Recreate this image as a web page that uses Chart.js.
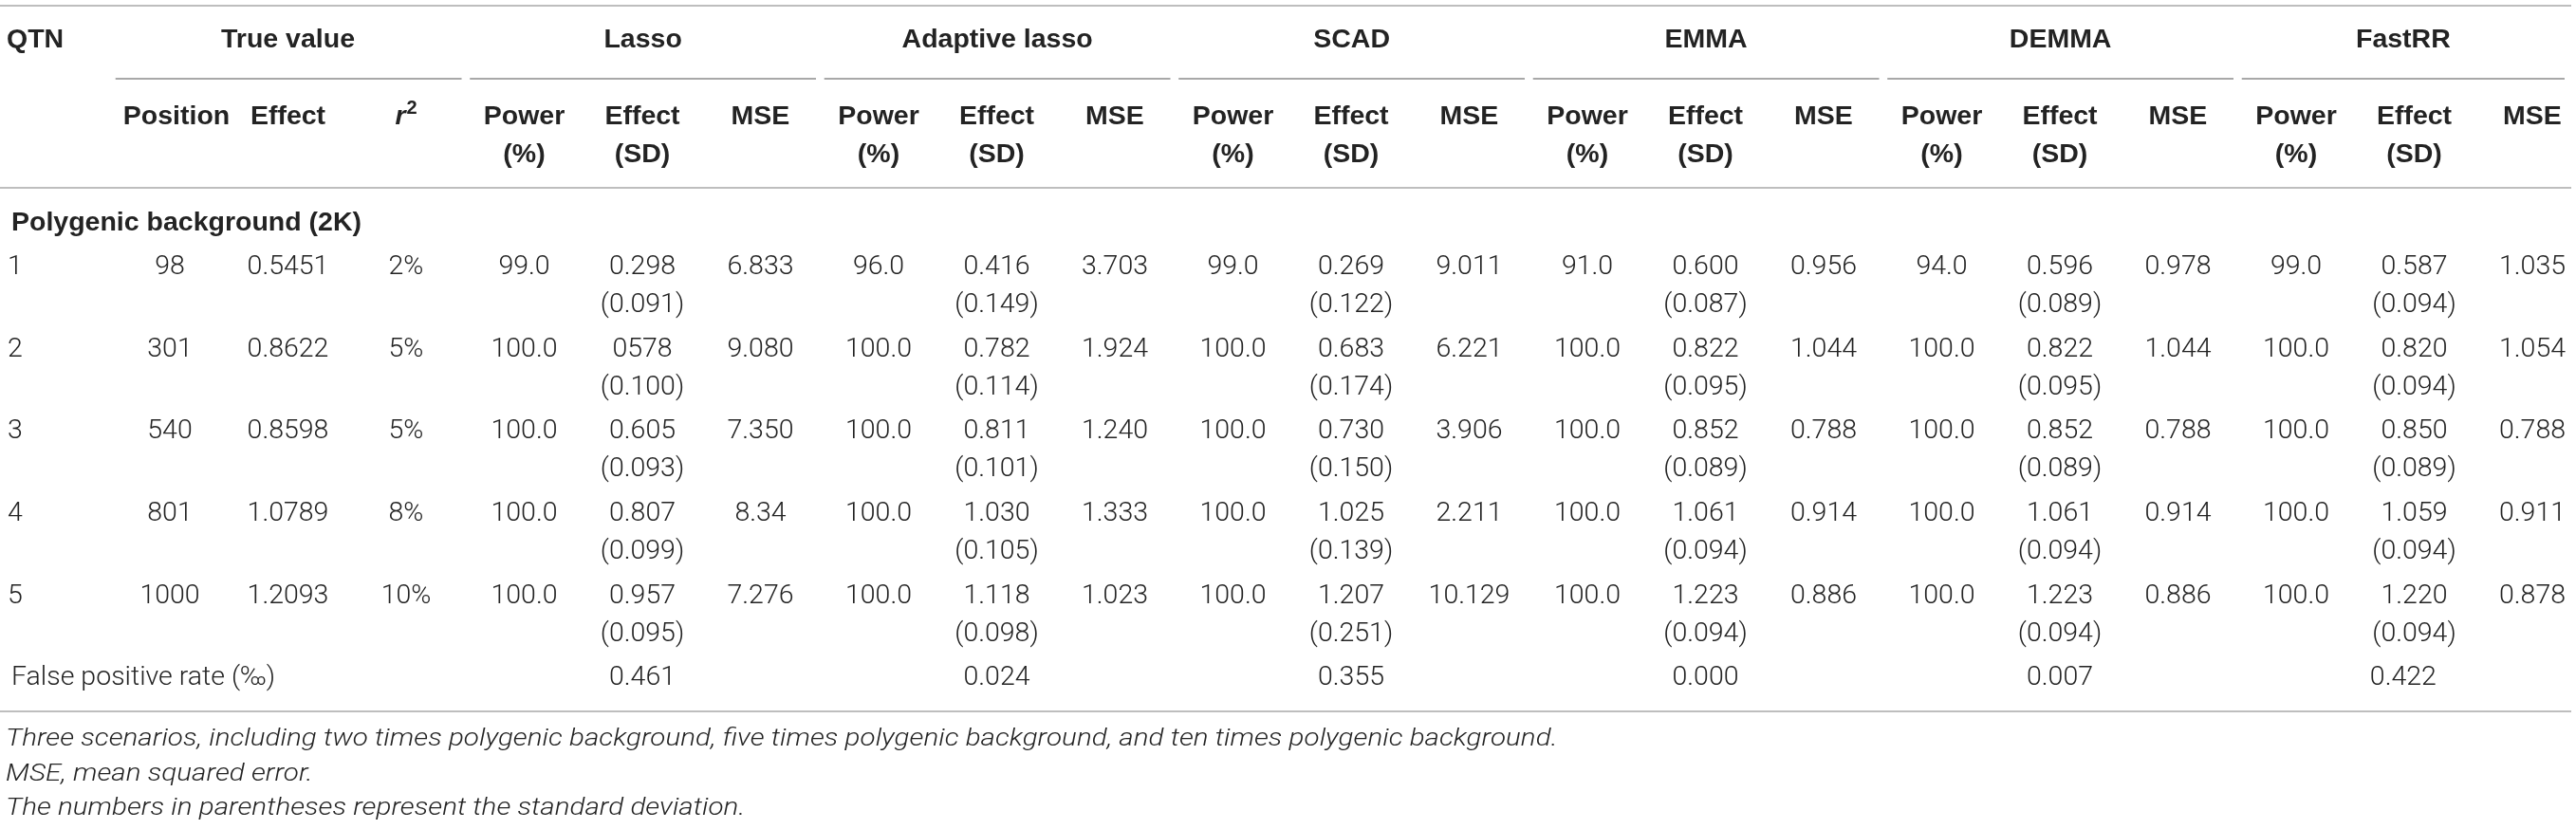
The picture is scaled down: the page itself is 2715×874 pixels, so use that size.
<!DOCTYPE html>
<html>
<head>
<meta charset="utf-8">
<script src="https://cdn.jsdelivr.net/npm/chart.js@4.4.0/dist/chart.umd.min.js"></script>
<style>
  html, body { margin: 0; padding: 0; background: #ffffff; overflow: hidden; }
  #wrap { width: 2715px; height: 874px; position: relative; }
  canvas { display: block; }
</style>
</head>
<body>
<div id="wrap"><canvas id="table" width="2715" height="874"></canvas></div>
<script>
// ---------------- DATA ----------------
const qtnLabels      = ['1', '2', '3', '4', '5'];
const positions      = ['98', '301', '540', '801', '1000'];
const trueEffects    = ['0.5451', '0.8622', '0.8598', '1.0789', '1.2093'];
const r2Values       = ['2%', '5%', '5%', '8%', '10%'];

const methods        = ['Lasso', 'Adaptive lasso', 'SCAD', 'EMMA', 'DEMMA', 'FastRR'];

const lassoPower     = ['99.0', '100.0', '100.0', '100.0', '100.0'];
const lassoEffect    = ['0.298', '0578', '0.605', '0.807', '0.957'];
const lassoSD        = ['0.091', '0.100', '0.093', '0.099', '0.095'];
const lassoMSE       = ['6.833', '9.080', '7.350', '8.34', '7.276'];

const adaPower       = ['96.0', '100.0', '100.0', '100.0', '100.0'];
const adaEffect      = ['0.416', '0.782', '0.811', '1.030', '1.118'];
const adaSD          = ['0.149', '0.114', '0.101', '0.105', '0.098'];
const adaMSE         = ['3.703', '1.924', '1.240', '1.333', '1.023'];

const scadPower      = ['99.0', '100.0', '100.0', '100.0', '100.0'];
const scadEffect     = ['0.269', '0.683', '0.730', '1.025', '1.207'];
const scadSD         = ['0.122', '0.174', '0.150', '0.139', '0.251'];
const scadMSE        = ['9.011', '6.221', '3.906', '2.211', '10.129'];

const emmaPower      = ['91.0', '100.0', '100.0', '100.0', '100.0'];
const emmaEffect     = ['0.600', '0.822', '0.852', '1.061', '1.223'];
const emmaSD         = ['0.087', '0.095', '0.089', '0.094', '0.094'];
const emmaMSE        = ['0.956', '1.044', '0.788', '0.914', '0.886'];

const demmaPower     = ['94.0', '100.0', '100.0', '100.0', '100.0'];
const demmaEffect    = ['0.596', '0.822', '0.852', '1.061', '1.223'];
const demmaSD        = ['0.089', '0.095', '0.089', '0.094', '0.094'];
const demmaMSE       = ['0.978', '1.044', '0.788', '0.914', '0.886'];

const fastrrPower    = ['99.0', '100.0', '100.0', '100.0', '100.0'];
const fastrrEffect   = ['0.587', '0.820', '0.850', '1.059', '1.220'];
const fastrrSD       = ['0.094', '0.094', '0.089', '0.094', '0.094'];
const fastrrMSE      = ['1.035', '1.054', '0.788', '0.911', '0.878'];

const falsePositiveRates = ['0.461', '0.024', '0.355', '0.000', '0.007', '0.422'];

const sectionTitle   = 'Polygenic background (2K)';
const fprLabel       = 'False positive rate (\u2030)';
const qtnHeader      = 'QTN';
const trueValueHeader = 'True value';
const trueSubHeaders = ['Position', 'Effect'];
const methodSubHeaders = [['Power', '(%)'], ['Effect', '(SD)'], ['MSE', '']];
const footnotes = [
  'Three scenarios, including two times polygenic background, five times polygenic background, and ten times polygenic background.',
  'MSE, mean squared error.',
  'The numbers in parentheses represent the standard deviation.'
];

// ---------------- LAYOUT / STYLE ----------------
const TEXT_COLOR = '#232323';
const RULE_COLOR = '#a8a8a8';
const BODY_FONT = '300 28.5px Roboto, "Liberation Sans", Arial, sans-serif';
const BOLD_FONT = 'bold 28.5px "Liberation Sans", Arial, sans-serif';
const ITALIC_FONT = 'italic 300 26px Roboto, "Liberation Sans", Arial, sans-serif';
const ITALIC_STRETCH = 1.14;

// x scale: column index units (column i centre); y scale: data-row units
const COL0_PX = 54.5, COL_PITCH = 124.5, ROW1_PX = 282, ROW_PITCH = 86.6;
const colFromPx = px => (px - COL0_PX) / COL_PITCH;
const rowFromPx = px => 1 + (px - ROW1_PX) / ROW_PITCH;

const Y = {
  topRule: rowFromPx(6),
  head1: rowFromPx(42),
  groupRule: rowFromPx(83),
  head2a: rowFromPx(123),
  head2b: rowFromPx(163),
  sepRule: rowFromPx(198),
  section: rowFromPx(235),
  sdOffset: 40 / ROW_PITCH,
  fpr: 6,
  bottomRule: rowFromPx(750),
  foot: [rowFromPx(779), rowFromPx(816), rowFromPx(852)]
};
const X = {
  left: colFromPx(0),
  right: colFromPx(2715),
  tableRight: colFromPx(2710),
  groupRight: colFromPx(2703),
  qtnText: colFromPx(7),
  footText: colFromPx(6),
  rowNum: colFromPx(8),
  labelText: colFromPx(12),
  positionHead: 1 + 7 / COL_PITCH
};

// ---------------- BUILD DATASETS ----------------
const methodSeries = [
  [lassoPower, lassoEffect, lassoSD, lassoMSE],
  [adaPower, adaEffect, adaSD, adaMSE],
  [scadPower, scadEffect, scadSD, scadMSE],
  [emmaPower, emmaEffect, emmaSD, emmaMSE],
  [demmaPower, demmaEffect, demmaSD, demmaMSE],
  [fastrrPower, fastrrEffect, fastrrSD, fastrrMSE]
];

function textSet(points, font, align, stretch) {
  return {
    type: 'scatter',
    data: points,
    pointRadius: 0,
    pointHoverRadius: 0,
    cell: { font: font, align: align || 'center', stretch: stretch || 1 }
  };
}
function ruleSet(x0, x1, y, width) {
  return {
    type: 'line',
    data: [{ x: x0, y: y }, { x: x1, y: y }],
    borderColor: RULE_COLOR,
    borderWidth: width,
    pointRadius: 0,
    showLine: true,
    fill: false
  };
}

const datasets = [];

// rules
datasets.push(ruleSet(X.left, X.tableRight, Y.topRule, 1.5));
datasets.push(ruleSet(X.left, X.tableRight, Y.sepRule, 1.5));
datasets.push(ruleSet(X.left, X.tableRight, Y.bottomRule, 1.5));
const groupSpans = [[1, 3]];
methods.forEach((m, g) => groupSpans.push([4 + 3 * g, 6 + 3 * g]));
groupSpans.forEach(([a, b]) => {
  datasets.push(ruleSet(a - 0.46, Math.min(b + 0.47, X.groupRight), Y.groupRule, 2.2));
});

// header row 1
datasets.push(textSet([{ x: X.qtnText, y: Y.head1, t: qtnHeader }], BOLD_FONT, 'left'));
const groupHeads = [{ x: 2, y: Y.head1, t: trueValueHeader }];
methods.forEach((m, g) => {
  const a = groupSpans[g + 1][0] - 0.46, b = Math.min(groupSpans[g + 1][1] + 0.47, X.groupRight);
  groupHeads.push({ x: (a + b) / 2, y: Y.head1, t: m });
});
datasets.push(textSet(groupHeads, BOLD_FONT));

// header row 2
const head2 = [
  { x: X.positionHead, y: Y.head2a, t: trueSubHeaders[0] },
  { x: 2, y: Y.head2a, t: trueSubHeaders[1] },
  { x: 3, y: Y.head2a, t: 'r', sup: '2' }
];
methods.forEach((m, g) => {
  methodSubHeaders.forEach((lines, k) => {
    head2.push({ x: 4 + 3 * g + k, y: Y.head2a, t: lines[0] });
    if (lines[1]) head2.push({ x: 4 + 3 * g + k, y: Y.head2b, t: lines[1] });
  });
});
datasets.push(textSet(head2, BOLD_FONT));

// section title
datasets.push(textSet([{ x: X.labelText, y: Y.section, t: sectionTitle }], BOLD_FONT, 'left'));

// QTN numbers and true values
datasets.push(textSet(qtnLabels.map((q, i) => ({ x: X.rowNum, y: i + 1, t: q })), BODY_FONT, 'left'));
datasets.push(textSet(positions.map((v, i) => ({ x: 1, y: i + 1, t: v })), BODY_FONT));
datasets.push(textSet(trueEffects.map((v, i) => ({ x: 2, y: i + 1, t: v })), BODY_FONT));
datasets.push(textSet(r2Values.map((v, i) => ({ x: 3, y: i + 1, t: v })), BODY_FONT));

// methods
methodSeries.forEach(([pw, ef, sd, mse], g) => {
  const c = 4 + 3 * g;
  datasets.push(textSet(pw.map((v, i) => ({ x: c, y: i + 1, t: v })), BODY_FONT));
  datasets.push(textSet(ef.map((v, i) => ({ x: c + 1, y: i + 1, t: v })), BODY_FONT));
  datasets.push(textSet(sd.map((v, i) => ({ x: c + 1, y: i + 1 + Y.sdOffset, t: '(' + v + ')' })), BODY_FONT));
  datasets.push(textSet(mse.map((v, i) => ({ x: c + 2, y: i + 1, t: v })), BODY_FONT));
});

// false positive rates
datasets.push(textSet([{ x: X.labelText, y: Y.fpr, t: fprLabel }], BODY_FONT, 'left'));
datasets.push(textSet(falsePositiveRates.map((v, g) => ({ x: g === 5 ? groupHeads[6].x : 5 + 3 * g, y: Y.fpr, t: v })), BODY_FONT));

// footnotes
datasets.push(textSet(footnotes.map((f, i) => ({ x: X.footText, y: Y.foot[i], t: f })), ITALIC_FONT, 'left', ITALIC_STRETCH));

// ---------------- TEXT PLUGIN ----------------
const cellTextPlugin = {
  id: 'cellText',
  afterDatasetsDraw(chart) {
    const ctx = chart.ctx;
    chart.data.datasets.forEach((ds, i) => {
      if (!ds.cell) return;
      const meta = chart.getDatasetMeta(i);
      ctx.save();
      ctx.fillStyle = TEXT_COLOR;
      ctx.textBaseline = 'middle';
      meta.data.forEach((el, j) => {
        const raw = ds.data[j];
        if (!raw || raw.t == null) return;
        if (raw.sup) {
          const f1 = 'italic bold 28.5px "Liberation Sans", Arial, sans-serif';
          const f2 = 'bold 20px "Liberation Sans", Arial, sans-serif';
          ctx.font = f1; const w1 = ctx.measureText(raw.t).width;
          ctx.font = f2; const w2 = ctx.measureText(raw.sup).width;
          const x0 = el.x - (w1 + w2 + 1) / 2;
          ctx.textAlign = 'left';
          ctx.font = f1; ctx.fillText(raw.t, x0, el.y);
          ctx.font = f2; ctx.fillText(raw.sup, x0 + w1 + 1, el.y - 9);
          return;
        }
        ctx.font = ds.cell.font;
        ctx.textAlign = ds.cell.align;
        if (ds.cell.stretch !== 1) {
          ctx.save();
          ctx.translate(el.x, el.y);
          ctx.scale(ds.cell.stretch, 1);
          ctx.fillText(raw.t, 0, 0);
          ctx.restore();
        } else {
          ctx.fillText(raw.t, el.x, el.y);
        }
      });
      ctx.restore();
    });
  }
};

// ---------------- CHART ----------------
new Chart(document.getElementById('table'), {
  type: 'scatter',
  data: { datasets: datasets },
  options: {
    responsive: false,
    devicePixelRatio: 1,
    animation: false,
    events: [],
    layout: { padding: 0 },
    plugins: { legend: { display: false }, tooltip: { enabled: false }, title: { display: false } },
    scales: {
      x: { type: 'linear', min: X.left, max: X.right, display: false },
      y: { type: 'linear', min: rowFromPx(0), max: rowFromPx(874), reverse: true, display: false }
    }
  },
  plugins: [cellTextPlugin]
});
</script>
</body>
</html>
